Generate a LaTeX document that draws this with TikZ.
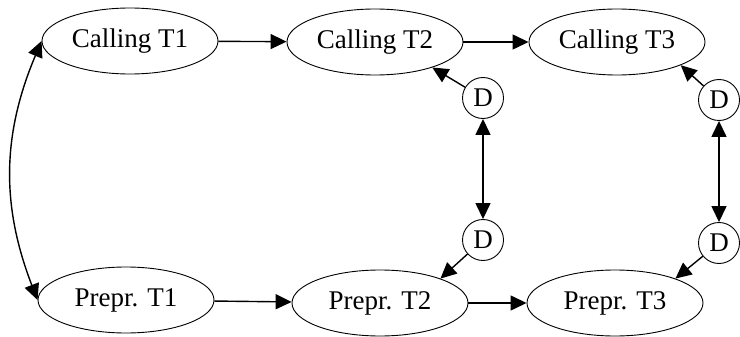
\documentclass[tikz,border=0pt]{standalone}
\usepackage{fontspec}
\setmainfont{Liberation Serif}
\usetikzlibrary{shapes.geometric,arrows.meta}
\begin{document}
\begin{tikzpicture}[x=1pt,y=-1pt,
  task/.style={draw,ellipse,line width=0.9pt,minimum width=176pt,minimum height=66pt,inner sep=0pt,
    font=\fontsize{27}{32}\selectfont},
  delay/.style={draw,circle,line width=0.9pt,minimum size=41pt,inner sep=0pt,
    font=\fontsize{27}{32}\selectfont},
  tip/.style={Triangle[length=16pt,width=15pt]},
  link/.style={line width=1.4pt,-{Triangle[length=16pt,width=15pt]}},
  duallink/.style={line width=1.4pt,{Triangle[length=16pt,width=15pt]}-{Triangle[length=16pt,width=15pt]}}
]
\useasboundingbox (0,0) rectangle (740,337);
% task nodes
\node[task] (c1) at (130,41) {Calling T1};
\node[task] (c2) at (375,42) {Calling T2};
\node[task] (c3) at (617,42) {Calling T3};
\node[task] (p1) at (126,300) {Prepr. T1};
\node[task] (p2) at (380,303) {Prepr. T2};
\node[task] (p3) at (615,303) {Prepr. T3};
% delay nodes
\node[delay] (d1) at (483,98) {D};
\node[delay] (d2) at (483,240) {D};
\node[delay] (d3) at (719,100) {D};
\node[delay] (d4) at (719,243) {D};
% flow between tasks
\draw[link] (c1) -- (c2);
\draw[link] (c2) -- (c3);
\draw[link] (p1) -- (p2);
\draw[link] (p2) -- (p3);
% delays feeding the tasks
\draw[link] (d1) -- (c2.-24);
\draw[link] (d2) -- (p2.22);
\draw[link] (d3) -- (c3.-20);
\draw[link] (d4) -- (p3.22);
% synchronisation links
\draw[duallink] (d1) -- (d2);
\draw[duallink] (d3) -- (d4);
\draw[duallink] (c1.west) to[bend right=22] (p1.west);
\end{tikzpicture}
\end{document}
